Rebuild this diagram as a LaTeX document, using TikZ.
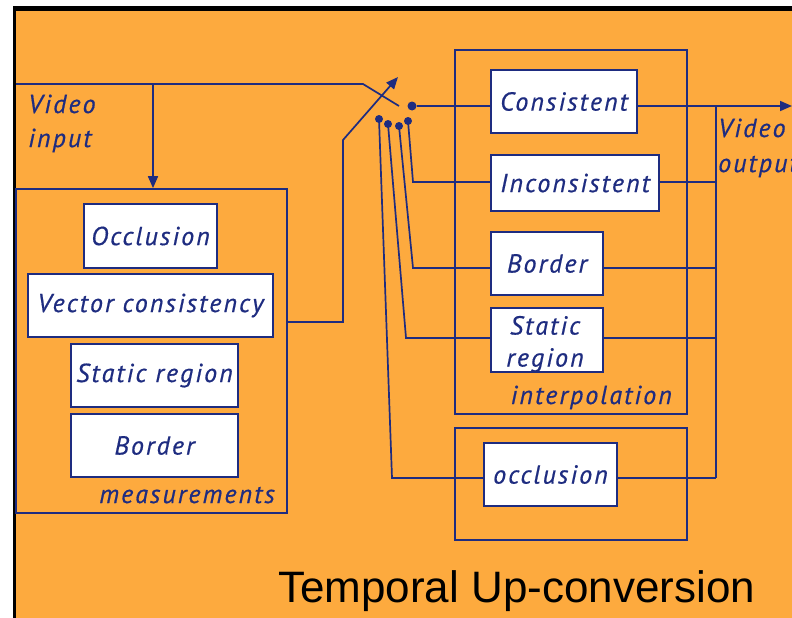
\documentclass[tikz,border=0pt]{standalone}
\usepackage{fontspec}
\setmainfont{Liberation Sans}
\newfontfamily\lab[LetterSpace=8, FakeBold=0.6]{PT Sans}
\usetikzlibrary{arrows.meta}
\definecolor{bg}{HTML}{FDAA3E}
\definecolor{navy}{HTML}{1E2C80}
\begin{document}
\begin{tikzpicture}[x=1pt,y=-1pt,
  ln/.style={draw=navy, line width=1.7pt},
  lfont/.style={font=\lab\itshape\fontsize{26}{32}\selectfont, text=navy},
  box/.style={ln, fill=white, inner sep=0pt, lfont},
  frame/.style={ln, inner sep=0pt},
  lbl/.style={lfont, inner sep=0pt},
  dot/.style={circle, fill=navy, inner sep=0pt, minimum size=8pt},
  tip/.style={-{Triangle[length=12pt,width=10pt]}}
]
\useasboundingbox (0,0) rectangle (792,618);
\fill[white] (0,0) rectangle (792,618);
\fill[bg] (16,11) rectangle (792,618);
\fill[black] (13,6) rectangle (792,11);
\fill[black] (13,6) rectangle (16,618);

% containers
\node[frame, minimum width=271pt, minimum height=324pt] (meas) at (151.5,351) {};
\node[frame, minimum width=232pt, minimum height=364pt] (interp) at (571,232) {};
\node[frame, minimum width=232pt, minimum height=112pt] (occO) at (571,484) {};

% measurement boxes
\node[box, minimum width=133pt, minimum height=64pt] (occM) at (150.5,236) {Occlusion};
\node[box, minimum width=245pt, minimum height=63pt] (vec) at (150.5,305.5) {Vector consistency};
\node[box, minimum width=167pt, minimum height=63pt] (statM) at (154.5,375.5) {Static region};
\node[box, minimum width=167pt, minimum height=63pt] (borM) at (154.5,445.5) {Border};

% interpolation boxes
\node[box, minimum width=146pt, minimum height=63pt] (cons) at (564,101.5) {Consistent};
\node[box, minimum width=168pt, minimum height=56pt] (incons) at (575,183) {Inconsistent};
\node[box, minimum width=112pt, minimum height=63pt] (borI) at (547,263.5) {Border};
\node[box, minimum width=112pt, minimum height=64pt] (statI) at (547,340) {};
\node[lbl, align=center] (statIt) at (545,344) {Static\\region};
\node[box, minimum width=133pt, minimum height=63pt] (occI) at (550.5,474.5) {occlusion};

% labels
\node[lbl, anchor=base east] (measl) at (275,503) {measurements};
\node[lbl, anchor=base east] (interpl) at (672,404) {interpolation};
\node[lbl, anchor=base west] (vin1) at (28,113) {Video};
\node[lbl, anchor=base west] (vin2) at (28,147) {input};
\node[lbl, anchor=base west] (vout1) at (718,137) {Video};
\node[lbl, anchor=base west] (vout2) at (718,172) {output};

% input and switch
\coordinate (vin) at (16,84);
\coordinate (sw) at (399,106);
\draw[ln] (vin) -- (363,84) -- (sw);
\draw[ln,tip] (153,84) -- (meas.north -| 153,84);
\draw[ln,tip] (meas.east |- 0,322) -- (343,322) -- (343,140) -- (398,77);

% contacts
\node[dot, minimum size=9pt] (dc) at (412,106) {};
\node[dot] (d1) at (408,121) {};
\node[dot] (d2) at (399,126) {};
\node[dot] (d3) at (388,124) {};
\node[dot] (d4) at (379,119) {};

\draw[ln] (dc) -- (cons.west |- dc);
\draw[ln] (d1.center) -- (413,182) -- (incons.west |- 0,182);
\draw[ln] (d2.center) -- (413,268) -- (borI.west |- 0,268);
\draw[ln] (d3.center) -- (406,338) -- (statI.west |- 0,338);
\draw[ln] (d4.center) -- (392,478) -- (occI.west |- 0,478);

% outputs
\coordinate (vout) at (792,106);
\draw[ln,tip] (cons.east |- dc) -- (vout);
\draw[ln] (716,106) -- (716,478);
\draw[ln] (incons.east |- 0,182) -- (716,182);
\draw[ln] (borI.east |- 0,268) -- (716,268);
\draw[ln] (statI.east |- 0,338) -- (716,338);
\draw[ln] (occI.east |- 0,478) -- (716,478);

% title
\node[anchor=base west, inner sep=0pt, font=\fontsize{44}{50}\selectfont, text=black] (title) at (278,602) {Temporal Up-conversion};
\end{tikzpicture}
\end{document}
